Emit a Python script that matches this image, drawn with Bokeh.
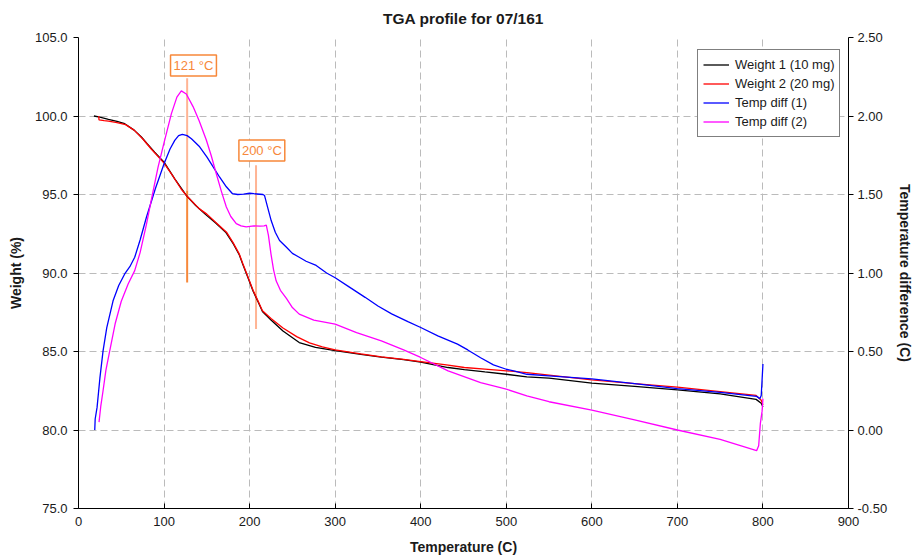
from bokeh.plotting import figure
from bokeh.models import (Range1d, LinearAxis, SingleIntervalTicker, FixedTicker,
                          NumeralTickFormatter, Label, Legend, LegendItem)
from bokeh.embed import file_html
from bokeh.resources import INLINE

# ---------------- data ----------------
w1_temp = [18, 25, 35, 45, 54, 65, 73.5, 80, 89, 100, 112.5, 126, 137, 148, 160, 172, 181,
           188, 192, 197, 204, 210, 215, 225, 239, 258, 277, 300, 330, 354, 380, 400,
           432, 451, 475, 500, 524, 550, 600, 650, 700, 750, 792, 798, 800]
w1_weight = [100.0, 99.93, 99.79, 99.66, 99.51, 99.1, 98.66, 98.25, 97.7, 97.06, 96.0, 94.94,
             94.3, 93.75, 93.2, 92.6, 91.85, 91.15, 90.55, 89.85, 88.85, 88.15, 87.55, 87.0,
             86.3, 85.57, 85.26, 85.05, 84.82, 84.64, 84.48, 84.32, 83.98, 83.85, 83.7,
             83.55, 83.38, 83.3, 82.98, 82.78, 82.56, 82.3, 81.95, 81.7, 81.47]

w2_temp = [23.6, 24, 30, 35, 45, 55, 65, 75, 85, 95, 100, 110, 120, 126, 141, 150, 165, 173,
           181, 188, 192, 197, 204, 210, 215, 225, 239, 255, 270, 285, 300, 330, 354, 380,
           400, 430, 451, 475, 500, 524, 550, 600, 650, 700, 750, 792, 798, 800]
w2_weight = [100.0, 99.75, 99.7, 99.67, 99.58, 99.45, 99.1, 98.55, 97.9, 97.3, 97.0, 96.2,
             95.35, 94.94, 94.1, 93.75, 93.0, 92.6, 91.9, 91.2, 90.6, 89.9, 88.9, 88.2, 87.6,
             87.1, 86.5, 85.95, 85.55, 85.3, 85.1, 84.85, 84.66, 84.5, 84.36, 84.15, 83.98,
             83.88, 83.77, 83.66, 83.5, 83.19, 82.95, 82.73, 82.45, 82.2, 81.9, 81.6]

d1_temp = [19, 19.5, 21.7, 25, 28.7, 33, 40.4, 47, 54, 60, 65.7, 72, 79.4, 90, 100, 107,
           112.5, 117, 121.4, 127, 132, 141.6, 150, 157.2, 165, 172.8, 180, 186, 193, 200,
           205, 215.6, 217.4, 221, 225.2, 230, 235, 242.8, 250, 258, 266, 277.8, 290, 300,
           316.7, 335, 350, 366, 385, 400, 420, 443, 455, 470, 485, 500, 510, 524, 550, 600,
           650, 700, 750, 792.6, 796.5, 798, 800]
d1_diff = [0.0, 0.07, 0.144, 0.33, 0.504, 0.65, 0.823, 0.92, 0.994, 1.04, 1.10, 1.21, 1.355,
           1.54, 1.696, 1.79, 1.845, 1.875, 1.883, 1.875, 1.855, 1.804, 1.74, 1.677, 1.61,
           1.549, 1.505, 1.50, 1.502, 1.508, 1.505, 1.50, 1.494, 1.42, 1.334, 1.26, 1.207,
           1.166, 1.125, 1.10, 1.075, 1.048, 1.0, 0.97, 0.91, 0.845, 0.79, 0.74, 0.69, 0.653,
           0.60, 0.547, 0.51, 0.46, 0.415, 0.387, 0.375, 0.355, 0.345, 0.326, 0.295, 0.263,
           0.24, 0.214, 0.20, 0.22, 0.42]

d2_temp = [24, 26, 28.7, 32, 36.5, 43, 50, 58, 65.7, 72, 79.4, 86, 93, 100, 108.6, 115,
           120.2, 126, 133.9, 141, 149.4, 155, 161, 167, 172.8, 178, 184.4, 190, 196, 205,
           212, 217, 219.5, 222, 225, 228, 231, 236, 243, 250, 258, 275, 300, 325, 354, 380,
           400, 432, 470, 500, 524, 550, 600, 650, 700, 750, 792.6, 795, 797, 799, 800]
d2_diff = [0.05, 0.15, 0.25, 0.38, 0.504, 0.68, 0.82, 0.93, 1.015, 1.13, 1.31, 1.49, 1.674,
           1.83, 2.015, 2.12, 2.16, 2.14, 2.06, 1.97, 1.847, 1.75, 1.634, 1.52, 1.42, 1.36,
           1.315, 1.30, 1.294, 1.30, 1.298, 1.30, 1.305, 1.24, 1.12, 1.02, 0.95, 0.89, 0.838,
           0.78, 0.738, 0.70, 0.674, 0.62, 0.568, 0.51, 0.462, 0.377, 0.302, 0.26, 0.217,
           0.18, 0.126, 0.065, 0.0, -0.06, -0.132, -0.10, 0.042, 0.12, 0.2]

series_names = ["Weight 1 (10 mg)", "Weight 2 (20 mg)", "Temp diff (1)", "Temp diff (2)"]
series_colors = ["#000000", "#FF0000", "#0000FF", "#FF00FF"]

x_ticks = [0, 100, 200, 300, 400, 500, 600, 700, 800, 900]
grid_x = [100, 200, 300, 400, 500, 600, 700, 800]
grid_y = [80, 85, 90, 95, 100]

title_text = "TGA profile for 07/161"

# annotations: label text, label position (temp, weight), marker line (temp, weight top/mid/bottom)
ann_text = ["121 °C", "200 °C"]
ann_label_x = [134.4, 214.3]
ann_label_y = [103.22, 97.8]
ann_line_x = [127, 207.5]
ann_line_top = [102.4, 96.87]
ann_line_mid = [95.25, 86.43]
ann_line_bottom = [89.4, 86.43]

# ---------------- figure ----------------
FONT = "Liberation Sans"
p = figure(width=916, height=559, x_range=Range1d(0, 900), y_range=Range1d(75, 105),
           output_backend="svg", toolbar_location=None,
           min_border_left=78, min_border_right=67, min_border_top=37, min_border_bottom=51)
p.extra_y_ranges = {"diff": Range1d(-0.5, 2.5)}
p.outline_line_color = None
p.background_fill_color = "white"

p.title.text = title_text
p.title.align = "center"
p.title.vertical_align = "top"
p.title.text_font = FONT
p.title.text_font_size = "15.5px"
p.title.text_font_style = "bold"
p.title.text_color = "#1a1a1a"
p.title.standoff = 18

# grids
p.xgrid.ticker = FixedTicker(ticks=grid_x)
p.ygrid.ticker = FixedTicker(ticks=grid_y)
for g in (p.xgrid, p.ygrid):
    g.grid_line_color = "#BBBBBB"
    g.grid_line_dash = "7 4"
    g.grid_line_width = 1

# axes
xa = p.xaxis[0]
xa.ticker = FixedTicker(ticks=x_ticks)
xa.axis_label = "Temperature (C)"
ya = p.yaxis[0]
ya.ticker = SingleIntervalTicker(interval=5)
ya.formatter = NumeralTickFormatter(format="0.0")
ya.axis_label = "Weight (%)"
ra = LinearAxis(y_range_name="diff", ticker=SingleIntervalTicker(interval=0.5),
                formatter=NumeralTickFormatter(format="0.00"),
                axis_label="Temperature difference (C)")
p.add_layout(ra, "right")

for ax in (xa, ya, ra):
    ax.axis_line_color = "black"
    ax.axis_line_width = 1
    ax.major_tick_line_color = "black"
    ax.minor_tick_line_color = None
    ax.major_label_text_font = FONT
    ax.major_label_text_font_size = "13px"
    ax.major_label_text_color = "#1a1a1a"
    ax.axis_label_text_font = FONT
    ax.axis_label_text_font_size = "14px"
    ax.axis_label_text_font_style = "bold"
    ax.axis_label_text_color = "#1a1a1a"
    ax.major_tick_out = 5
    ax.major_tick_in = 0
xa.major_tick_out = 0
xa.major_tick_in = 5
xa.major_label_standoff = 8
xa.axis_label_standoff = 10
ya.major_label_standoff = 6
ya.axis_label_standoff = 8
ra.major_label_standoff = 4
ra.axis_label_standoff = 7

# annotation marker lines
p.segment(x0=ann_line_x[:1], y0=ann_line_top[:1], x1=ann_line_x[:1], y1=ann_line_mid[:1],
          line_color="#FFB494", line_width=2)
p.segment(x0=ann_line_x[:1], y0=ann_line_mid[:1], x1=ann_line_x[:1], y1=ann_line_bottom[:1],
          line_color="#F7883A", line_width=2)
p.segment(x0=ann_line_x[1:], y0=ann_line_top[1:], x1=ann_line_x[1:], y1=ann_line_mid[1:],
          line_color="#FFB494", line_width=2)

# series
r1 = p.line(w1_temp, w1_weight, line_color=series_colors[0], line_width=1.3)
r2 = p.line(w2_temp, w2_weight, line_color=series_colors[1], line_width=1.3)
r3 = p.line(d1_temp, d1_diff, line_color=series_colors[2], line_width=1.3, y_range_name="diff")
r4 = p.line(d2_temp, d2_diff, line_color=series_colors[3], line_width=1.3, y_range_name="diff")

# labels
for t, lx, ly in zip(ann_text, ann_label_x, ann_label_y):
    p.add_layout(Label(x=lx, y=ly, text=t, text_align="center", text_baseline="middle",
                       text_font=FONT, text_font_size="13px", text_color="#F7883A",
                       border_line_color="#F7883A", border_line_width=1.5,
                       background_fill_color="white", background_fill_alpha=1.0, padding=3))

legend = Legend(items=[LegendItem(label=n, renderers=[r]) for n, r in
                       zip(series_names, [r1, r2, r3, r4])],
                location=(619, 371), padding=5, spacing=0,
                label_height=19, glyph_height=19, glyph_width=26, label_standoff=6,
                label_text_font=FONT, label_text_font_size="13px", label_text_color="#1a1a1a",
                border_line_color="black", border_line_width=1.2,
                background_fill_color="white", background_fill_alpha=1.0)
p.add_layout(legend, "center")

open("out.html", "w").write(file_html(p, INLINE))
